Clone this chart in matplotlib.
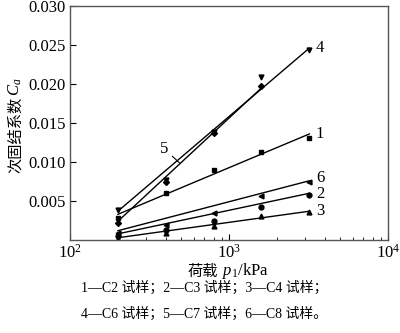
import numpy as np
import matplotlib.pyplot as plt
from matplotlib.ticker import LogLocator, FixedLocator, NullFormatter

plt.rcParams['font.family'] = ['Liberation Serif', 'Noto Sans CJK SC']
plt.rcParams['mathtext.fontset'] = 'custom'
plt.rcParams['mathtext.rm'] = 'Liberation Serif'
plt.rcParams['mathtext.it'] = 'Liberation Serif:italic'

# 荷载 (kPa)
loads = [200, 400, 800, 1600, 3200]

# 次固结系数 Ca，各试样实测值
ca_c2 = [0.0028, 0.0060, 0.0090, 0.0113, 0.0131]
ca_c3 = [0.0005, 0.0013, 0.0024, 0.0043, 0.0058]
ca_c4 = [0.0002, 0.0009, 0.0018, 0.0031, 0.0036]
ca_c6 = [0.0038, 0.0077, 0.0139, 0.0209, 0.0244]
ca_c7 = [0.0022, 0.0075, 0.0137, 0.0197]
ca_c8 = [0.0009, 0.0019, 0.0035, 0.0056, 0.0074]

# 拟合直线两端点的 Ca 值
fit_c2 = [0.0033, 0.0136]
fit_c3 = [0.0008, 0.0060]
fit_c4 = [0.0003, 0.0037]
fit_c6 = [0.0037, 0.0246]
fit_c7 = [0.0024, 0.0195]
fit_c8 = [0.0012, 0.0076]

series = [
    ('1', ca_c2, fit_c2, 's'),
    ('2', ca_c3, fit_c3, 'o'),
    ('3', ca_c4, fit_c4, '^'),
    ('4', ca_c6, fit_c6, 'v'),
    ('5', ca_c7, fit_c7, 'D'),
    ('6', ca_c8, fit_c8, '<'),
]

fig = plt.figure(figsize=(4.0, 3.33), dpi=100)
ax = fig.add_axes([0.175, 0.279, 0.795, 0.703])

label_off = {'1': 0.0, '2': -0.0001, '3': 0.0, '4': 0.0, '6': 0.0003}
for name, vals, fit, mk in series:
    x = loads[:len(vals)]
    ax.plot(x, vals, linestyle='none', marker=mk, color='black',
            markersize=3.5 if mk != 'D' else 3)
    xf = [x[0], x[-1]]
    ax.plot(xf, fit, color='black', lw=1.0)
    if name != '5':
        ax.text(xf[-1] * 1.1, fit[-1] + label_off[name], name,
                fontsize=12, va='center', ha='left')

# 曲线5 的引线标注
ax.annotate('5', xy=(488, 0.0099), xytext=(392, 0.0117),
            fontsize=12, va='center', ha='center',
            arrowprops=dict(arrowstyle='-', color='black', lw=0.8,
                            shrinkA=1, shrinkB=0))

ax.set_xscale('log')
ax.set_xlim(100, 10000)
ax.set_ylim(0, 0.030)
ax.yaxis.set_major_locator(FixedLocator([0.005, 0.010, 0.015, 0.020, 0.025, 0.030]))
ax.set_yticklabels(['0.005', '0.010', '0.015', '0.020', '0.025', '0.030'])
ax.xaxis.set_minor_locator(LogLocator(base=10, subs=np.arange(2, 10)))
ax.xaxis.set_minor_formatter(NullFormatter())
ax.tick_params(axis='both', which='major', direction='in', length=4,
               labelsize=12, width=0.8, pad=3)
ax.tick_params(axis='x', which='minor', direction='in', length=2.5, width=0.6)
for s in ax.spines.values():
    s.set_color('#555555')
    s.set_linewidth(1.0)

# 坐标轴标题：中文与符号分开书写
cjk = 'Noto Sans CJK SC'
fig.text(0.545, 0.185, '荷载', family=cjk, fontsize=11, ha='right', va='center')
fig.text(0.555, 0.185, '$p_1$/kPa', fontsize=12, ha='left', va='center')
fig.text(0.0375, 0.708, '次固结系数', family=cjk, fontsize=11,
         rotation=90, ha='center', va='top')
fig.text(0.0375, 0.712, '$C_a$', fontsize=12, rotation=90,
         ha='center', va='bottom')

fig.text(0.51, 0.136, '1—C2 试样；2—C3 试样；3—C4 试样；',
         family=['Liberation Serif', cjk], fontsize=10,
         ha='center', va='center')
fig.text(0.51, 0.058, '4—C6 试样；5—C7 试样；6—C8 试样。',
         family=['Liberation Serif', cjk], fontsize=10,
         ha='center', va='center')

fig.savefig('out.png', dpi=100)
